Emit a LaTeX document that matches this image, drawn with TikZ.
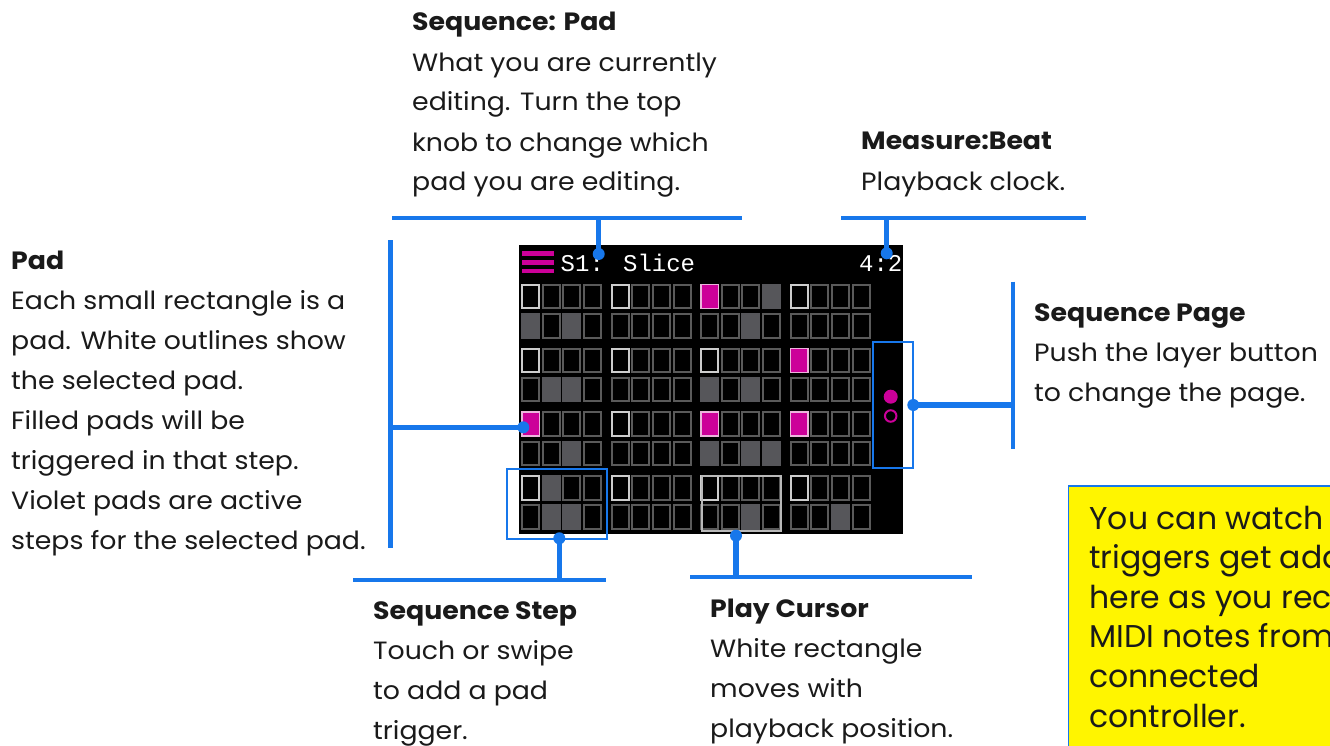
\documentclass[tikz,border=0pt]{standalone}
\usepackage{fontspec}
\setmainfont{Poppins}[FakeStretch=1.07]
\newfontfamily\notefont{Poppins}
\newfontfamily\screenfont{Liberation Mono}
\definecolor{cblue}{RGB}{23,119,235}
\definecolor{txt}{RGB}{26,26,26}
\definecolor{cmag}{RGB}{204,0,153}
\definecolor{pinkline}{RGB}{235,180,220}
\definecolor{padline}{RGB}{90,90,90}
\definecolor{padsel}{RGB}{205,205,205}
\definecolor{padgray}{RGB}{86,86,90}
\definecolor{cursor}{RGB}{185,185,185}
\definecolor{note}{RGB}{255,245,0}
\tikzset{
  lbl/.style={anchor=base west, inner sep=0, align=left, text=txt, font=\fontsize{25}{40}\selectfont},
  bar/.style={draw=cblue, line width=3.5},
  stub/.style={draw=cblue, line width=5.5},
  bdot/.style={circle, fill=cblue, inner sep=0, minimum size=12},
  bbox/.style={draw=cblue, line width=2, rectangle, inner sep=0},
  pade/.style={rectangle, draw=padline, fill=black, line width=2, minimum width=17, minimum height=23.6, inner sep=0},
  pads/.style={pade, draw=padsel},
  padg/.style={rectangle, fill=padgray, minimum width=19, minimum height=25.6, inner sep=0},
  padv/.style={pade, fill=cmag, draw=pinkline, line width=1.5, minimum width=17.5, minimum height=24},
  scr/.style={inner sep=0, text=white, font=\screenfont\fontsize{24}{24}\selectfont}
}
\begin{document}
\begin{tikzpicture}[x=1pt,y=-1pt]
\useasboundingbox (0,0) rectangle (1330,746);
\fill[white] (0,0) rectangle (1330,746);

% screen
\node[rectangle, fill=black, inner sep=0, minimum width=383.4, minimum height=288.5] (screen) at (711,389.25) {};
% header
\foreach \yy [count=\b] in {253.6,262.2,270.8}
  \fill[cmag] (521.5,\yy-2.3) rectangle (553.5,\yy+2.3);
\node[scr, anchor=base west] (title) at (560.5,271.7) {S1: Slice};
\node[scr, anchor=base east] (clock) at (902.5,271.7) {4:2};

% pads
\foreach \r/\codes in {
  0/{s,e,e,e,s,e,e,e,v,e,e,g,s,e,e,e},
  1/{g,e,g,e,e,e,e,e,e,e,g,e,e,e,e,e},
  2/{s,e,e,e,s,e,e,e,s,e,e,e,v,e,e,e},
  3/{e,g,g,e,e,e,e,e,g,e,g,e,e,e,e,e},
  4/{v,e,e,e,s,e,e,e,v,e,e,e,v,e,e,e},
  5/{e,e,g,e,e,e,e,e,g,e,g,g,e,e,e,e},
  6/{s,g,e,e,s,e,e,e,s,e,e,e,s,e,e,e},
  7/{e,g,g,e,e,e,e,e,e,e,g,e,e,e,g,e}} {
  \foreach \c [count=\i from 0] in \codes {
    \pgfmathsetmacro{\px}{521+int(\i/4)*89.5+mod(\i,4)*20.7+9.5}
    \pgfmathsetmacro{\py}{283.7+int(\r/2)*63.8+mod(\r,2)*29.3+12.8}
    \node[pad\c] (p-\r-\i) at (\px,\py) {};
  }
}
% play cursor
\node[rectangle, draw=cursor, line width=2, inner sep=0, minimum width=79, minimum height=54.7] (cursorbox) at (741.2,503.35) {};
% layer indicator
\node[circle, fill=cmag, inner sep=0, minimum size=14] (layer1) at (890.7,396.7) {};
\node[circle, draw=cmag, line width=2, inner sep=0, minimum size=11.5] (layer2) at (890.7,416) {};

% blue boxes
\node[bbox, minimum width=99.4, minimum height=70.3] (stepbox) at (557,503.85) {};
\node[bbox, minimum width=40.3, minimum height=126.3] (pagebox) at (892.85,405.15) {};

% connector: Sequence: Pad
\coordinate (spL) at (392,218); \coordinate (spR) at (742,218); \coordinate (spJ) at (598.7,218);
\node[bdot] (spD) at (598.7,254) {};
\draw[bar] (spL) -- (spR);
\draw[stub] (spJ) -- (spD.center);
% Measure:Beat
\coordinate (mbL) at (841,218); \coordinate (mbR) at (1086,218); \coordinate (mbJ) at (886.7,218);
\node[bdot] (mbD) at (886.7,253.3) {};
\draw[bar] (mbL) -- (mbR);
\draw[stub] (mbJ) -- (mbD.center);
% Pad
\coordinate (pdT) at (390.3,240); \coordinate (pdB) at (390.3,547.7); \coordinate (pdJ) at (390.3,427.3);
\node[bdot] (pdD) at (523.3,427.3) {};
\draw[bar, line width=4.5] (pdT) -- (pdB);
\draw[stub] (pdJ) -- (pdD.center);
% Sequence Page
\coordinate (pgT) at (1013.3,281.7); \coordinate (pgB) at (1013.3,449.3); \coordinate (pgJ) at (1013.3,405);
\node[bdot] (pgD) at (913.3,405) {};
\draw[bar, line width=4.3] (pgT) -- (pgB);
\draw[stub] (pgJ) -- (pgD.center);
% Sequence Step
\coordinate (ssL) at (353.3,580); \coordinate (ssR) at (605.7,580); \coordinate (ssJ) at (559.3,580);
\node[bdot] (ssD) at (559.3,538.3) {};
\draw[bar, line width=4] (ssL) -- (ssR);
\draw[stub] (ssJ) -- (ssD.center);
% Play Cursor
\coordinate (pcL) at (690,577); \coordinate (pcR) at (972,577); \coordinate (pcJ) at (736,577);
\node[bdot] (pcD) at (736,535.7) {};
\draw[bar, line width=3.8] (pcL) -- (pcR);
\draw[stub] (pcJ) -- (pcD.center);

% labels (anchor = baseline of the last line)
\node[lbl] (tSeqPad) at (412,191) {\textbf{Sequence: Pad}\\What you are currently\\editing. Turn the top\\knob to change which\\pad you are editing.};
\node[lbl] (tMeasure) at (861,190) {\textbf{Measure:Beat}\\Playback clock.};
\node[lbl] (tPad) at (11,549) {\textbf{Pad}\\Each small rectangle is a\\pad. White outlines show\\the selected pad.\\Filled pads will be\\triggered in that step.\\Violet pads are active\\steps for the selected pad.};
\node[lbl] (tPage) at (1034,401) {\textbf{Sequence Page}\\Push the layer button\\to change the page.};
\node[lbl] (tStep) at (373,739) {\textbf{Sequence Step}\\Touch or swipe\\to add a pad\\trigger.};
\node[lbl] (tCursor) at (710,737) {\textbf{Play Cursor}\\White rectangle\\moves with\\playback position.};

% note
\begin{scope}
\clip (0,0) rectangle (1330,746);
\fill[note] (1068.3,486) rectangle (1345,760);
\draw[cblue, line width=1.5] (1345,486) -- (1068.3,486) -- (1068.3,760);
\node[lbl, font=\notefont\fontsize{31.5}{39.6}\selectfont] (tNote) at (1089.3,727) {You can watch the\\triggers get added\\here as you record\\MIDI notes from a\\connected\\controller.};
\end{scope}
\end{tikzpicture}
\end{document}
